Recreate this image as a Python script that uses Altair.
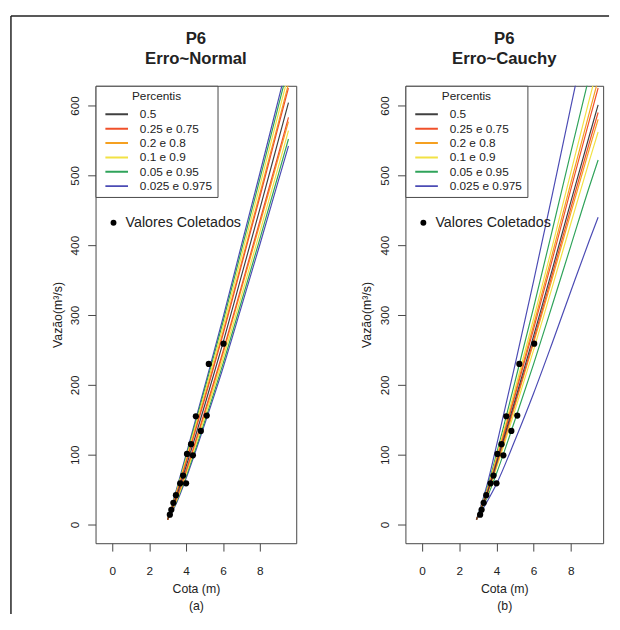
import altair as alt
import pandas as pd

# ---------------- data ----------------
labels = ["0.5", "0.25 e 0.75", "0.2 e 0.8", "0.1 e 0.9", "0.05 e 0.95", "0.025 e 0.975"]
colors = ["#404040", "#f0502a", "#f5a020", "#f2e244", "#2fa35a", "#4b4bb4"]

# Erro~Normal: discharge (m3/s) along each percentile curve at these stages (m)
cota_normal = [3.0, 3.5, 4.0, 5.0, 6.0, 7.0, 8.0, 9.0, 9.55]
normal_p0025 = [7, 32, 66, 143, 224, 312, 401, 492, 542]
normal_p005 = [7, 34, 69, 147, 230, 319, 409, 501, 552]
normal_p010 = [7, 35.5, 72, 152.5, 237, 327.5, 419, 512, 564]
normal_p020 = [7, 38, 76, 158, 244.5, 337, 430, 525, 577]
normal_p025 = [7, 38.5, 77, 161, 248, 341, 435, 530, 583]
normal_p050 = [7, 42, 83, 170, 260, 356, 452, 550, 604]
normal_p075 = [7, 45.5, 89, 179, 272, 371, 469, 570, 625]
normal_p080 = [7, 46, 90, 182, 275.5, 375, 474, 575, 631]
normal_p090 = [7, 48.5, 94, 187.5, 283, 384.5, 485, 588, 644]
normal_p095 = [7, 50, 97, 193, 290, 393, 495, 599, 656]
normal_p0975 = [7, 52, 100, 197, 296, 400, 503, 608, 666]

# Erro~Cauchy
cota_cauchy = [2.92, 3.5, 4.0, 5.0, 6.0, 7.0, 8.0, 9.0, 9.47]
cauchy_p0025 = [7, 33, 58, 121, 188, 260, 334, 407, 440]
cauchy_p005 = [7, 39, 73, 150, 230, 314, 399, 484, 522]
cauchy_p010 = [7, 42, 81, 164, 250, 340, 431, 521, 562]
cauchy_p020 = [7, 44, 84, 171, 260, 352, 446, 538, 580]
cauchy_p025 = [7, 44, 86, 174, 264, 358, 453, 547, 590]
cauchy_p050 = [7, 45, 88, 178, 270, 365, 462, 557, 601]
cauchy_p075 = [7, 47, 91, 185, 280, 379, 480, 579, 625]
cauchy_p080 = [7, 48, 93, 188, 286, 387, 489, 590, 637]
cauchy_p090 = [7, 49, 96, 194, 295, 398, 504, 609, 657]
cauchy_p095 = [7, 52, 101, 205, 311, 421, 533, 643, 695]
cauchy_p0975 = [7, 57.5, 113, 229, 349, 472, 598, 723, 781]

# observed values (Valores Coletados)
obs_cota = [3.12, 3.2, 3.31, 3.45, 3.68, 3.84, 4.0, 4.05, 4.27, 4.37, 4.53, 4.8, 5.12, 5.23, 6.03]
obs_vazao = [14, 21, 31, 42, 59, 70, 59, 101, 115, 99, 155, 134, 156, 230, 259]

x_ticks = [0, 2, 4, 6, 8]
y_ticks = [0, 100, 200, 300, 400, 500, 600]

FONT = "Liberation Sans"
TXT = "#222222"


def curves_df(cota, series):
    rows = []
    for label, side, vals in series:
        for h, q in zip(cota, vals):
            rows.append({"cota": h, "vazao": q, "grp": label, "curve": label + "|" + side})
    return pd.DataFrame(rows)


normal_df = curves_df(cota_normal, [
    (labels[5], "lo", normal_p0025), (labels[5], "hi", normal_p0975),
    (labels[4], "lo", normal_p005), (labels[4], "hi", normal_p095),
    (labels[3], "lo", normal_p010), (labels[3], "hi", normal_p090),
    (labels[2], "lo", normal_p020), (labels[2], "hi", normal_p080),
    (labels[1], "lo", normal_p025), (labels[1], "hi", normal_p075),
    (labels[0], "md", normal_p050),
])
cauchy_df = curves_df(cota_cauchy, [
    (labels[5], "lo", cauchy_p0025), (labels[5], "hi", cauchy_p0975),
    (labels[4], "lo", cauchy_p005), (labels[4], "hi", cauchy_p095),
    (labels[3], "lo", cauchy_p010), (labels[3], "hi", cauchy_p090),
    (labels[2], "lo", cauchy_p020), (labels[2], "hi", cauchy_p080),
    (labels[1], "lo", cauchy_p025), (labels[1], "hi", cauchy_p075),
    (labels[0], "md", cauchy_p050),
])
obs_df = pd.DataFrame({"cota": obs_cota, "vazao": obs_vazao, "kind": "Valores Coletados"})
one = pd.DataFrame({"a": [0]})

H = 465
Y_DOM = [-26.8, 628.2]


def panel(df_lines, subtitle, w, xdom, letter, frame=False):
    xs = alt.Scale(domain=xdom, nice=False, zero=False)
    ys = alt.Scale(domain=Y_DOM, nice=False, zero=False)
    xaxis = alt.Axis(values=x_ticks, format="d", title=["Cota (m)", letter],
                     titleLineHeight=17, labelPadding=15, titlePadding=6, labelFlush=False)
    yaxis = alt.Axis(values=y_ticks, format="d", title="Vazão(m³/s)", labelAngle=270,
                     labelAlign="center", labelBaseline="bottom", labelPadding=6,
                     titlePadding=5, labelFlush=False, labelOverlap=False)
    lines = alt.Chart(df_lines).mark_line(clip=True, strokeWidth=1.2, interpolate="monotone").encode(
        x=alt.X("cota:Q", scale=xs, axis=xaxis),
        y=alt.Y("vazao:Q", scale=ys, axis=yaxis),
        color=alt.Color("grp:N", scale=alt.Scale(domain=labels, range=colors),
                        legend=alt.Legend(orient="none", legendX=0, legendY=0, direction="vertical",
                                          title="Percentis", titleAnchor="middle", titleFontSize=12,
                                          titleFontWeight="normal", titleColor=TXT, titlePadding=6,
                                          labelFontSize=12, labelColor=TXT, labelOffset=11,
                                          symbolType="stroke", symbolSize=529, symbolStrokeWidth=2,
                                          symbolOffset=4, clipHeight=12, rowPadding=2.6, padding=5,
                                          strokeColor="#444444", fillColor="white")),
        detail="curve:N",
    )
    pts = alt.Chart(obs_df).mark_point(filled=True, size=40, color="black", opacity=1, clip=True).encode(
        x=alt.X("cota:Q"),
        y=alt.Y("vazao:Q"),
        shape=alt.Shape("kind:N", scale=alt.Scale(range=["circle"]), title=None,
                        legend=alt.Legend(orient="none", legendX=11, legendY=132, labelFontSize=14.5,
                                          labelColor=TXT, labelOffset=5, symbolSize=36,
                                          symbolFillColor="black", symbolStrokeColor="black",
                                          symbolType="circle", padding=0)),
    )
    t1 = alt.Chart(one).mark_text(text="P6", fontSize=17, fontWeight="bold", color=TXT,
                                  align="center", baseline="middle").encode(
        x=alt.value(w / 2), y=alt.value(-47))
    t2 = alt.Chart(one).mark_text(text=subtitle, fontSize=17, fontWeight="bold", color=TXT,
                                  align="center", baseline="middle").encode(
        x=alt.value(w / 2), y=alt.value(-27))
    layers = [lines, pts, t1, t2]
    if frame:
        top = alt.Chart(one).mark_rule(color="#222222", strokeWidth=1.5).encode(
            x=alt.value(-86), x2=alt.value(522), y=alt.value(-71))
        left = alt.Chart(one).mark_rule(color="#222222", strokeWidth=1.5).encode(
            x=alt.value(-86), y=alt.value(-71), y2=alt.value(537))
        layers += [top, left]
    return alt.layer(*layers).properties(width=w, height=H)


left = panel(normal_df, "Erro~Normal", 204, [-0.907, 9.97], "(a)", frame=True)
right = panel(cauchy_df, "Erro~Cauchy", 201, [-0.9, 9.74], "(b)")

chart = alt.hconcat(left, right, spacing=111, bounds="flush").resolve_scale(
    x="independent", y="independent", color="independent", shape="independent"
).resolve_legend(color="independent", shape="independent").properties(
    padding={"left": 1, "top": 1, "right": 1, "bottom": 1}
).configure(font=FONT).configure_view(stroke="#444444", strokeWidth=1).configure_axis(
    domain=False, grid=False, tickSize=8, tickColor="#444444", labelFontSize=12,
    labelColor=TXT, titleFontSize=12.5, titleFontWeight="normal", titleColor=TXT
)

chart.save("out.html", embed_options={"renderer": "svg", "actions": False})
